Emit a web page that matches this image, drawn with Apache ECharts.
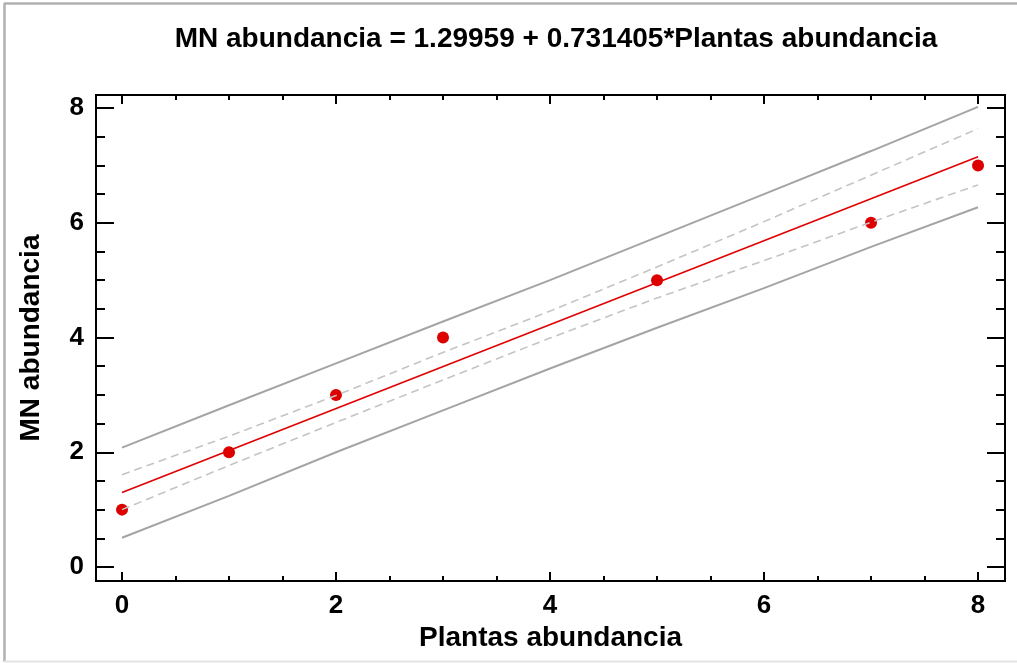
<!DOCTYPE html>
<html>
<head>
<meta charset="utf-8">
<script src="https://cdn.jsdelivr.net/npm/echarts@6/dist/echarts.min.js"></script>
<style>
  html, body { margin: 0; padding: 0; background: #fff; }
  #chart { width: 1017px; height: 663px; }
</style>
</head>
<body>
<div id="chart"></div>
<script>
// Fitted model: MN abundancia = intercept + slope * Plantas abundancia
const intercept = 1.29959;
const slope = 0.731405;

// Observed points
const obsX = [0, 1, 2, 3, 5, 7, 8];
const obsY = [1, 2, 3, 4, 5, 6, 7];

// Band sample positions and limits
const bandX = [0, 1, 2, 3, 4, 5, 6, 7, 8];
const predUpper = [2.08, 2.82, 3.55, 4.28, 5.00, 5.75, 6.50, 7.25, 8.02];
const predLower = [0.51, 1.24, 2.00, 2.73, 3.46, 4.17, 4.86, 5.58, 6.27];
const confUpper = [1.61, 2.28, 2.99, 3.74, 4.46, 5.23, 6.02, 6.83, 7.64];
const confLower = [1.00, 1.77, 2.52, 3.26, 3.99, 4.69, 5.34, 6.01, 6.66];

// Axis ticks
const majorTicks = [0, 2, 4, 6, 8];
const minorTicks = [0.5, 1, 1.5, 2.5, 3, 3.5, 4.5, 5, 5.5, 6.5, 7, 7.5];
const xRange = [-0.243, 8.252];
const yRange = [-0.244, 8.227];

const fitEnds = [bandX[0], bandX[bandX.length - 1]];
const fitData = fitEnds.map(x => [x, intercept + slope * x]);
const zip = (xs, ys) => xs.map((x, i) => [x, ys[i]]);

const FONT = '"Liberation Sans", Arial, sans-serif';

function axis(dim, position, ticks, len, opts) {
  return Object.assign({
    type: 'value',
    position: position,
    min: dim === 'x' ? xRange[0] : yRange[0],
    max: dim === 'x' ? xRange[1] : yRange[1],
    axisLine: { show: true, onZero: false, lineStyle: { color: '#000', width: 2 } },
    axisTick: { show: true, inside: true, length: len, customValues: ticks,
                lineStyle: { color: '#000', width: 2 } },
    axisLabel: { show: false },
    splitLine: { show: false },
    axisPointer: { show: false }
  }, opts || {});
}

const nameStyle = { fontFamily: FONT, fontWeight: 'bold', fontSize: 28, color: '#000' };

const chart = echarts.init(document.getElementById('chart'), null, { renderer: 'canvas' });

chart.setOption({
  backgroundColor: '#fff',
  animation: false,
  title: {
    text: 'MN abundancia = ' + intercept + ' + ' + slope + '*Plantas abundancia',
    left: 551,
    top: 20,
    textAlign: 'center',
    textStyle: nameStyle
  },
  graphic: [
    { type: 'line', shape: { x1: 4.5, y1: 3, x2: 4.5, y2: 662 }, style: { stroke: '#b0b0b0', lineWidth: 2.5 } },
    { type: 'line', shape: { x1: 4, y1: 3.5, x2: 1017, y2: 3.5 }, style: { stroke: '#b0b0b0', lineWidth: 2.5 } },
    { type: 'line', shape: { x1: 4, y1: 661.5, x2: 1017, y2: 661.5 }, style: { stroke: '#e4e4e4', lineWidth: 2 } }
  ],
  grid: { left: 96, right: 12, top: 95, bottom: 82, containLabel: false },
  xAxis: [
    axis('x', 'bottom', majorTicks, 9, {
      name: 'Plantas abundancia',
      nameLocation: 'middle',
      nameGap: 41,
      nameTextStyle: nameStyle,
      axisLabel: {
        show: true, customValues: majorTicks, margin: 12,
        fontFamily: FONT, fontWeight: 'bold', fontSize: 26, color: '#000'
      }
    }),
    axis('x', 'bottom', minorTicks, 5),
    axis('x', 'top', majorTicks, 9),
    axis('x', 'top', minorTicks, 5)
  ],
  yAxis: [
    axis('y', 'left', majorTicks, 18, {
      name: 'MN abundancia',
      nameLocation: 'middle',
      nameGap: 51,
      nameRotate: 90,
      nameTextStyle: nameStyle,
      axisLabel: {
        show: true, customValues: majorTicks, margin: 12,
        fontFamily: FONT, fontWeight: 'bold', fontSize: 26, color: '#000'
      }
    }),
    axis('y', 'left', minorTicks, 9),
    axis('y', 'right', majorTicks, 18),
    axis('y', 'right', minorTicks, 9)
  ],
  series: [
    {
      name: 'Observados', type: 'scatter', data: zip(obsX, obsY),
      symbol: 'circle', symbolSize: 12, z: 2,
      itemStyle: { color: '#dd0000', opacity: 1 }
    },
    {
      name: 'Ajuste', type: 'line', data: fitData, showSymbol: false, z: 3,
      lineStyle: { color: '#e00000', width: 1.6 }
    },
    {
      name: 'Predicción sup', type: 'line', data: zip(bandX, predUpper), showSymbol: false, z: 3,
      lineStyle: { color: '#a4a4a4', width: 2 }
    },
    {
      name: 'Predicción inf', type: 'line', data: zip(bandX, predLower), showSymbol: false, z: 3,
      lineStyle: { color: '#a4a4a4', width: 2 }
    },
    {
      name: 'Confianza sup', type: 'line', data: zip(bandX, confUpper), showSymbol: false, z: 3,
      lineStyle: { color: '#c4c4c4', width: 1.6, type: [8, 5] }
    },
    {
      name: 'Confianza inf', type: 'line', data: zip(bandX, confLower), showSymbol: false, z: 3,
      lineStyle: { color: '#c4c4c4', width: 1.6, type: [8, 5] }
    }
  ]
});
</script>
</body>
</html>
